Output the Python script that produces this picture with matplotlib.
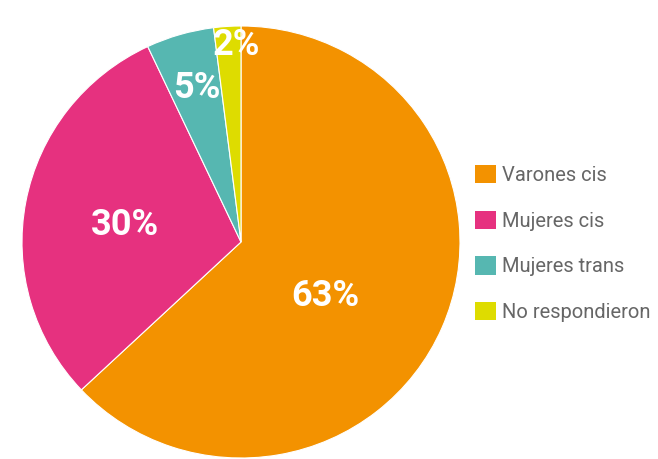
import matplotlib.pyplot as plt
import numpy as np

categories = ["Varones cis", "Mujeres cis", "Mujeres trans", "No respondieron"]
shares = [63, 30, 5, 2]
colors = ["#F39200", "#E6317F", "#56B7B1", "#DEDC00"]

# label placement: fraction of radius and nudge (deg) from the wedge middle
label_radius = [0.46, 0.535, 0.74, 0.912]
label_shift = [-9.5, 2.3, -0.5, -2.2]

FONT = ["Roboto", "DejaVu Sans"]

fig = plt.figure(figsize=(6.58, 4.59), dpi=100)
ax = fig.add_axes([0, 0, 1, 1])

wedges, _ = ax.pie(
    shares,
    colors=colors,
    startangle=90,
    counterclock=False,
    radius=1,
    wedgeprops=dict(edgecolor="white", linewidth=0.8),
)

for w, val, r, s in zip(wedges, shares, label_radius, label_shift):
    ang = np.deg2rad((w.theta1 + w.theta2) / 2 + s)
    ax.text(r * np.cos(ang), r * np.sin(ang), f"{val}%", ha="center", va="center",
            color="white", fontsize=26, fontweight="bold", family=FONT)

# pie in the source is a touch wider than tall, so no equal aspect
ax.set_xlim(-241 / 219, (658 - 241) / 219)
ax.set_ylim(-(459 - 242) / 216, 242 / 216)
ax.set_aspect("auto")
ax.axis("off")

leg = ax.legend(
    wedges, categories,
    loc="upper left", bbox_to_anchor=(0.722, 0.641), bbox_transform=fig.transFigure,
    frameon=False, prop={"family": FONT, "size": 14.5},
    handlelength=1.04, handleheight=1.02, handletextpad=0.3, labelspacing=1.28,
    borderpad=0, borderaxespad=0,
)
for t in leg.get_texts():
    t.set_color("#666666")
for h in leg.legend_handles:
    h.set_edgecolor("none")

plt.savefig("out.png", dpi=100)
